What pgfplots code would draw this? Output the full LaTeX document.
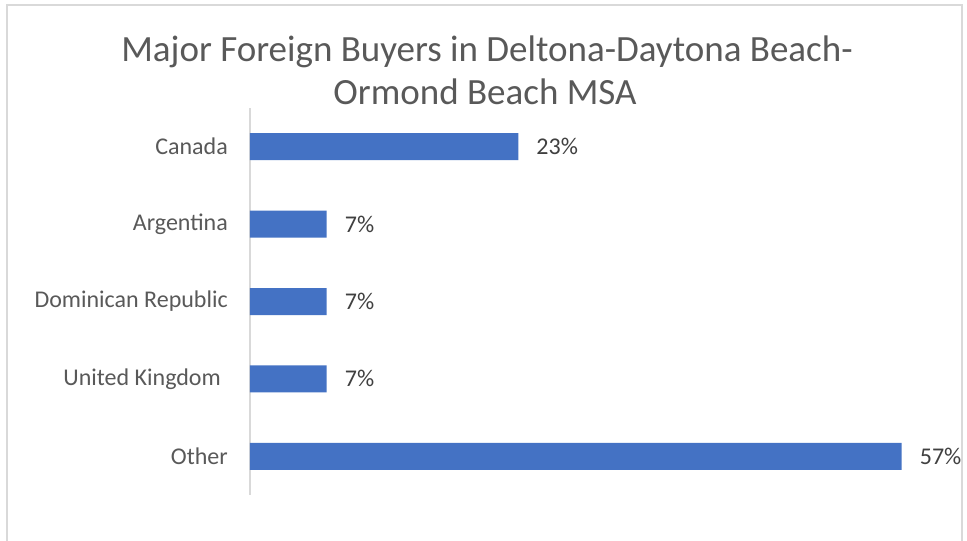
\documentclass[border=0pt]{standalone}
\usepackage{pgfplots}
\pgfplotsset{compat=1.18}
\usepackage{fontspec}
\setmainfont{Carlito}
\definecolor{barblue}{HTML}{4472C4}
\definecolor{titlegrey}{HTML}{595959}
\definecolor{labelgrey}{HTML}{404040}
\definecolor{framegrey}{HTML}{D9D9D9}
\begin{document}
\begin{tikzpicture}[x=1pt,y=1pt]
\useasboundingbox (0,0) rectangle (967,541);
\fill[white] (0,0) rectangle (967,541);
\draw[framegrey, line width=1.5pt] (7,0) -- (7,536) -- (962,536) -- (962,0);
\node[anchor=base, inner sep=0pt, text=titlegrey, font=\fontsize{37}{43}\selectfont] at (487,479)
  {Major Foreign Buyers in Deltona-Daytona Beach-};
\node[anchor=base, inner sep=0pt, text=titlegrey, font=\fontsize{37}{43}\selectfont] at (485,436)
  {Ormond Beach MSA};
\begin{axis}[
  at={(250pt,46pt)}, anchor=south west,
  scale only axis, width=690pt, height=387pt,
  xmin=0, xmax=60, ymin=-0.5, ymax=4.5,
  xbar, bar width=27pt,
  axis x line=none,
  axis y line*=left,
  y axis line style={draw=framegrey, line width=1.2pt},
  ytick={0,1,2,3,4},
  yticklabels={Other,{United Kingdom\hspace*{7pt}},Dominican Republic,Argentina,Canada},
  major tick length=0pt,
  yticklabel style={anchor=east, inner sep=0pt, xshift=-22pt, text=titlegrey, font=\fontsize{24}{29}\selectfont},
  point meta=explicit symbolic,
  nodes near coords,
  nodes near coords style={anchor=west, inner sep=0pt, xshift=18pt, text=labelgrey, font=\fontsize{24}{29}\selectfont},
  clip=false,
]
\addplot[fill=barblue, draw=none] coordinates {
  (56.67,0) [57\%]
  (6.67,1) [7\%]
  (6.67,2) [7\%]
  (6.67,3) [7\%]
  (23.33,4) [23\%]
};
\end{axis}
\end{tikzpicture}
\end{document}
